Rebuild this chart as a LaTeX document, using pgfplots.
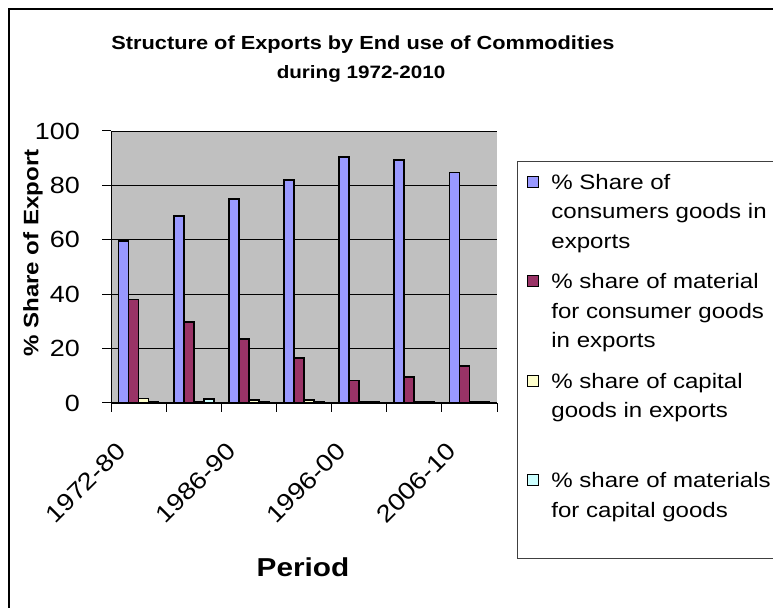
\documentclass[border=0pt]{standalone}
\usepackage{fontspec}
\setmainfont{Liberation Sans}[FakeStretch=1.15]
\usepackage{pgfplots}
\pgfplotsset{compat=1.18}
\definecolor{sA}{HTML}{9999FF}
\definecolor{sB}{HTML}{993366}
\definecolor{sC}{HTML}{FFFFCC}
\definecolor{sD}{HTML}{CCFFFF}
\definecolor{plotgray}{HTML}{C0C0C0}
\begin{document}
\begin{tikzpicture}[x=1bp,y=1bp]
\useasboundingbox (0,0) rectangle (773,608);
\draw[line width=1.6bp] (9,-20) -- (9,599) -- (800,599);
\draw[line width=0.8bp, draw=black!75] (517,50) rectangle (800,446.3);
\node[anchor=base, font=\bfseries\fontsize{19}{19}\selectfont] at (363,558) {Structure of Exports by End use of Commodities};
\node[anchor=base, font=\bfseries\fontsize{18}{18}\selectfont] at (361,529.7) {during 1972-2010};
\node[rotate=90, font=\bfseries\fontsize{21}{21}\selectfont] at (33,355) {\% Share of Export};
\node[anchor=base, font=\bfseries\fontsize{26}{26}\selectfont] at (303,31.3) {Period};
\begin{axis}[
  scale only axis, width=386bp, height=272bp,
  anchor=south west, at={(111bp,205bp)},
  xmin=-0.5, xmax=6.5, ymin=0, ymax=100,
  axis background/.style={fill=plotgray},
  axis x line*=bottom, axis y line*=left,
  axis line style={-, black, line width=1bp},
  ybar=0pt, bar width=10bp,
  ytick={0,20,...,100},
  ymajorgrids, grid style={black, line width=0.8bp},
  ytick align=outside, xtick align=outside,
  major tick length=9bp, tick style={black, line width=1bp},
  /pgf/number format/assume math mode=true,
  yticklabel style={font=\fontsize{23.5}{23.5}\selectfont, inner sep=0pt, anchor=east, xshift=-22bp},
  xtick={-0.5,0.5,...,6.5}, xticklabels={},
  extra x ticks={-0.3,1.7,3.7,5.7},
  extra x tick labels={1972-80,1986-90,1996-00,2006-10},
  extra x tick style={major tick length=0pt, grid=none,
    xticklabel style={font=\fontsize{24}{24}\selectfont, inner sep=0pt, xshift=-7bp, yshift=-38bp, rotate=45, anchor=north east}},
  legend style={at={(1.0777,0.8592)}, anchor=north west, draw=none, fill=none,
    inner sep=0pt, row sep=78bp, column sep=12bp,
    font=\fontsize{21}{29.5}\selectfont, nodes={inner sep=0pt}},
  legend cell align=left,
  legend image code/.code={\draw[#1, line width=1.2bp] (0bp,-7bp) rectangle (11bp,4bp);},
]
\addplot[fill=sA, draw=black, line width=1.7bp] coordinates {(0,59.6) (1,68.8) (2,75.1) (3,82.0) (4,90.4) (5,89.3) (6,84.7)};
\addplot[fill=sB, draw=black, line width=1.7bp] coordinates {(0,38.0) (1,29.8) (2,23.5) (3,16.5) (4,8.3) (5,9.6) (6,13.7)};
\addplot[fill=sC, draw=black, line width=1.7bp] coordinates {(0,1.7) (1,0.3) (2,1.1) (3,1.1) (4,0.3) (5,0.3) (6,0.3)};
\addplot[fill=sD, draw=black, line width=1.7bp] coordinates {(0,0.6) (1,1.4) (2,0.6) (3,0.5) (4,0.4) (5,0.3) (6,0.4)};
\addlegendentry{\parbox[t]{230bp}{\rule{0pt}{20bp}\% Share of\\consumers goods in\\exports}}
\addlegendentry{\parbox[t]{230bp}{\rule{0pt}{20bp}\% share of material\\for consumer goods\\in exports}}
\addlegendentry{\parbox[t]{230bp}{\rule{0pt}{20bp}\% share of capital\\goods in exports\\\mbox{}}}
\addlegendentry{\parbox[t]{230bp}{\rule{0pt}{20bp}\% share of materials\\for capital goods}}
\end{axis}
\end{tikzpicture}
\end{document}
